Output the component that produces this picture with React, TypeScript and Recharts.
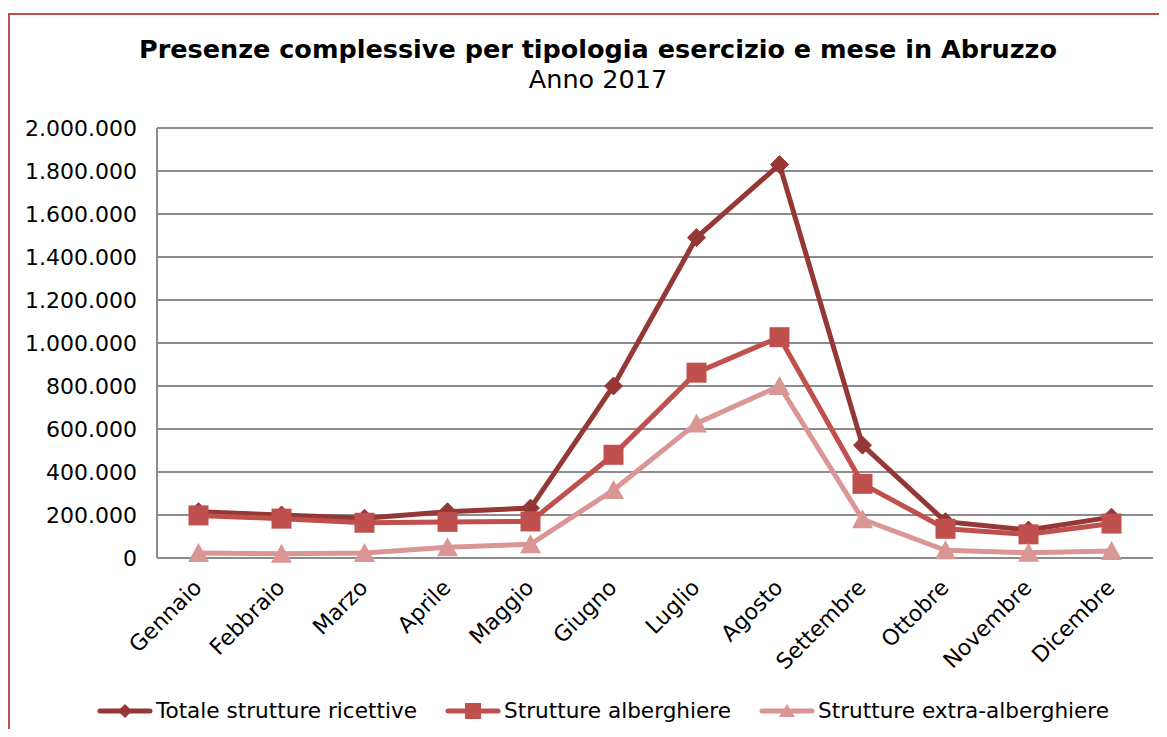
import React from 'react';
import { LineChart, Line, XAxis, YAxis, CartesianGrid } from 'recharts';

const months = ['Gennaio', 'Febbraio', 'Marzo', 'Aprile', 'Maggio', 'Giugno', 'Luglio', 'Agosto', 'Settembre', 'Ottobre', 'Novembre', 'Dicembre'];
const totale = [215000, 200000, 185000, 215000, 232000, 800000, 1490000, 1830000, 525000, 169000, 130000, 190000];
const alberghiere = [198000, 183000, 164000, 168000, 170000, 480000, 862000, 1027000, 345000, 136000, 110000, 160000];
const extraAlberghiere = [23000, 20000, 23000, 50000, 64000, 316000, 626000, 800000, 180000, 36000, 24000, 33000];
const yTicks = [0, 200000, 400000, 600000, 800000, 1000000, 1200000, 1400000, 1600000, 1800000, 2000000];
const seriesNames = ['Totale strutture ricettive', 'Strutture alberghiere', 'Strutture extra-alberghiere'];

const COLORS = ['#953735', '#c0504d', '#d99694'];
const FONT = '"DejaVu Sans", Verdana, sans-serif';

const data = months.map((m, i) => ({
  month: m,
  totale: totale[i],
  alberghiere: alberghiere[i],
  extra: extraAlberghiere[i],
}));

const fmt = (v: number) => v.toString().replace(/\B(?=(\d{3})+(?!\d))/g, '.');

const Diamond = (color: string, r: number) => (props: any) => {
  const { cx, cy, index } = props;
  if (cx == null || cy == null) return <g key={index} />;
  return (
    <polygon key={index} points={`${cx},${cy - r} ${cx + r},${cy} ${cx},${cy + r} ${cx - r},${cy}`} fill={color} stroke={color} strokeWidth={1} />
  );
};
const Square = (color: string, s: number) => (props: any) => {
  const { cx, cy, index } = props;
  if (cx == null || cy == null) return <g key={index} />;
  return <rect key={index} x={cx - s / 2} y={cy - s / 2} width={s} height={s} fill={color} />;
};
const Triangle = (color: string, w: number, h: number) => (props: any) => {
  const { cx, cy, index } = props;
  if (cx == null || cy == null) return <g key={index} />;
  return (
    <polygon key={index} points={`${cx},${cy - h / 2 - 1} ${cx + w / 2},${cy + h / 2} ${cx - w / 2},${cy + h / 2}`} fill={color} />
  );
};

const XTick = (props: any) => {
  const { x, y, payload } = props;
  return (
    <g transform={`translate(${x + 4.5},${y + 23})`}>
      <text x={0} y={0} textAnchor="end" transform="rotate(-45)" fontFamily={FONT} fontSize={22} fill="#000">
        {payload.value}
      </text>
    </g>
  );
};

const LegendIcon = ({ idx }: { idx: number }) => {
  const c = COLORS[idx];
  return (
    <svg width={56} height={20} style={{ display: 'block' }}>
      <line x1={3} y1={10} x2={53} y2={10} stroke={c} strokeWidth={5} strokeLinecap="round" />
      {idx === 0 && <polygon points="28,3 35,10 28,17 21,10" fill={c} />}
      {idx === 1 && <rect x={20} y={2} width={16} height={16} fill={c} />}
      {idx === 2 && <polygon points="28,3 36,16 20,16" fill={c} />}
    </svg>
  );
};

export default function App() {
  return (
    <div style={{ width: 1159, height: 721, position: 'relative', overflow: 'hidden', background: '#fff' }}>
      <div style={{ position: 'absolute', left: 0, top: 5, width: 1159, height: 2, background: '#c0504d' }} />
      <div style={{ position: 'absolute', left: 0, top: 5, width: 2, height: 716, background: '#c0504d' }} />
      <div style={{ position: 'absolute', left: 0, top: 26, width: 1180, textAlign: 'center', fontFamily: FONT, fontWeight: 'bold', fontSize: 25.5, lineHeight: '30px', color: '#000', whiteSpace: 'nowrap' }}>
        Presenze complessive per tipologia esercizio e mese in Abruzzo
      </div>
      <div style={{ position: 'absolute', left: 0, top: 56, width: 1180, textAlign: 'center', fontFamily: FONT, fontSize: 25.5, lineHeight: '30px', color: '#000' }}>
        Anno 2017
      </div>
      <div style={{ position: 'absolute', left: 0, top: 0 }}>
        <LineChart width={1159} height={721} data={data} margin={{ top: 120, right: 14, left: 9, bottom: 71 }}>
          <CartesianGrid horizontal={true} vertical={false} stroke="#8c8c8c" strokeWidth={2} />
          <XAxis
            dataKey="month"
            height={100}
            padding={{ left: 41.5, right: 41.5 }}
            axisLine={{ stroke: '#8c8c8c', strokeWidth: 2 }}
            tickLine={false}
            tick={<XTick />}
            interval={0}
          />
          <YAxis
            width={140}
            domain={[0, 2000000]}
            ticks={yTicks}
            tickFormatter={fmt}
            axisLine={{ stroke: '#8c8c8c', strokeWidth: 2 }}
            tickLine={false}
            tickSize={0}
            tickMargin={20}
            tick={{ fontFamily: FONT, fontSize: 22, fill: '#000' }}
            interval={0}
          />
          <Line dataKey="totale" name={seriesNames[0]} stroke={COLORS[0]} strokeWidth={5} dot={Diamond(COLORS[0], 9)} activeDot={false} isAnimationActive={false} />
          <Line dataKey="alberghiere" name={seriesNames[1]} stroke={COLORS[1]} strokeWidth={5} dot={Square(COLORS[1], 20)} activeDot={false} isAnimationActive={false} />
          <Line dataKey="extra" name={seriesNames[2]} stroke={COLORS[2]} strokeWidth={5} dot={Triangle(COLORS[2], 21, 18)} activeDot={false} isAnimationActive={false} />
        </LineChart>
      </div>
      <div style={{ position: 'absolute', left: 0, top: 690, width: 1190, display: 'flex', justifyContent: 'center', alignItems: 'center', fontFamily: FONT, fontSize: 21.6, color: '#000' }}>
        {seriesNames.map((n, i) => (
          <div key={n} style={{ display: 'flex', alignItems: 'center', marginRight: i < 2 ? 28 : 0 }}>
            <LegendIcon idx={i} />
            <span style={{ marginLeft: 3, whiteSpace: 'nowrap' }}>{n}</span>
          </div>
        ))}
      </div>
    </div>
  );
}
